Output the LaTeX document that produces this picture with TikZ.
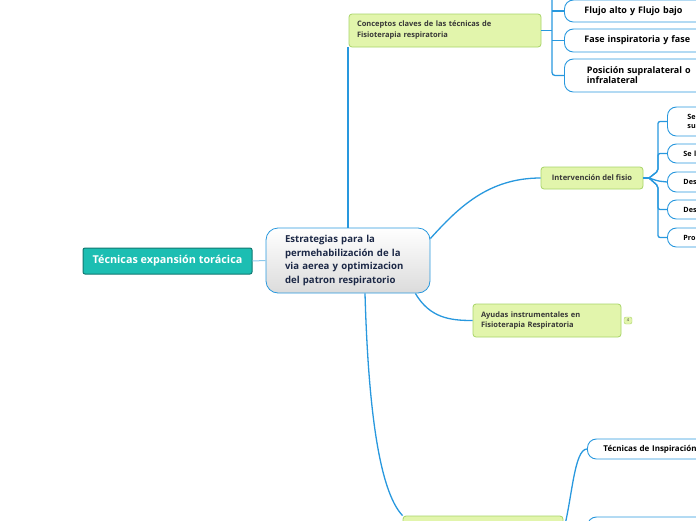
\documentclass[tikz,border=0pt]{standalone}
\usepackage{fontspec}
\setmainfont{Open Sans}
\usepackage{tikz}
\usetikzlibrary{positioning,calc}
\definecolor{linkblue}{RGB}{40,152,222}
\definecolor{paleblue}{RGB}{140,200,235}
\definecolor{tealfill}{RGB}{28,190,178}
\definecolor{tealdraw}{RGB}{16,120,112}
\definecolor{leaffill}{RGB}{226,245,172}
\definecolor{leafdraw}{RGB}{168,212,104}
\definecolor{navytext}{RGB}{28,40,70}
\definecolor{greytext}{RGB}{55,55,55}
\tikzset{
  rootbox/.style={rectangle, draw=tealdraw, fill=tealfill, rounded corners=2pt, line width=1pt, text=white, font=\fontsize{10.8}{12}\selectfont\bfseries},
  mainbox/.style={rectangle, draw=linkblue, top color=white, bottom color=gray!28, rounded corners=12pt, line width=0.8pt, text=navytext, align=left, font=\fontsize{9.6}{14}\selectfont\bfseries},
  leafbox/.style={rectangle, draw=leafdraw, fill=leaffill, rounded corners=3pt, line width=0.8pt, text=greytext, align=left},
  subbox/.style={rectangle, draw=linkblue, fill=white, rounded corners=9pt, line width=0.9pt, anchor=west, align=left, text=black},
  badge/.style={rectangle, draw=leafdraw, fill=leaffill, rounded corners=2pt, inner sep=0pt, minimum width=8pt, minimum height=7pt, font=\fontsize{4}{4}\selectfont, text=greytext},
  link/.style={draw=linkblue, line width=1.3pt},
  thinlink/.style={draw=paleblue, line width=1pt},
}

\begin{document}
\begin{tikzpicture}[x=1pt, y=-1pt]
  \useasboundingbox (0,0) rectangle (696,520);

  % Root and central topic
  \node[rootbox, minimum width=169pt, minimum height=26pt] (tecnicas) at (167.5,261) {Técnicas expansión torácica};
  \node[mainbox, minimum width=164pt, minimum height=65pt, text width=126pt] (central) at (348,260.5)
    {Estrategias para la\\permehabilización de la\\via aerea y optimizacion\\del patron respiratorio};
  \draw[thinlink] (tecnicas.east) -- (central.west);

  % Conceptos claves
  \node[leafbox, minimum width=192pt, minimum height=33pt, text width=176pt, font=\fontsize{7.5}{11}\selectfont\bfseries] (conceptos) at (445,30.5)
    {Conceptos claves de las técnicas de\\Fisioterapia respiratoria};
  \draw[link] (central.north) -- (central.north |- conceptos.south);

  \node[subbox, minimum width=200pt, minimum height=22pt, text width=160pt, inner xsep=17pt, font=\fontsize{9}{10}\selectfont\bfseries] (flujo) at (564,11) {Flujo alto y Flujo bajo};
  \node[subbox, minimum width=200pt, minimum height=23pt, text width=160pt, inner xsep=17pt, font=\fontsize{9}{10}\selectfont\bfseries] (fase) at (564,40.5) {Fase inspiratoria y fase};
  \node[subbox, minimum width=200pt, minimum height=33pt, text width=155pt, inner xsep=22pt, font=\fontsize{9}{10}\selectfont\bfseries] (posicion) at (564,75.5) {Posición supralateral o\\infralateral};

  \coordinate (ctop) at (552,0);
  \draw[link] (conceptos.east) -- (ctop |- conceptos.east);
  \draw[link, rounded corners=3pt] (ctop) |- (posicion.west);
  \draw[link] (ctop |- flujo.west) -- (flujo.west);
  \draw[link] (ctop |- fase.west) -- (fase.west);

  % Intervencion del fisio
  \node[leafbox, minimum width=102pt, minimum height=22pt, font=\fontsize{7.6}{9}\selectfont\bfseries] (fisio) at (592,178) {Intervención del fisio};
  \draw[link] ([yshift=22pt]central.east) .. controls (458,208) and (488,178) .. (fisio.west);

  \node[subbox, minimum width=60pt, minimum height=29pt, text width=30pt, inner xsep=20pt, font=\fontsize{7.2}{8.5}\selectfont\bfseries] (fisioa) at (667,121.5) {Se\\su};
  \node[subbox, minimum width=60pt, minimum height=19pt, text width=30pt, inner xsep=16pt, font=\fontsize{7.2}{8.5}\selectfont\bfseries] (fisiob) at (667,153.5) {Se l};
  \node[subbox, minimum width=60pt, minimum height=20pt, text width=30pt, inner xsep=16pt, font=\fontsize{7.2}{8.5}\selectfont\bfseries] (fisioc) at (667,182) {Des};
  \node[subbox, minimum width=60pt, minimum height=19pt, text width=30pt, inner xsep=16pt, font=\fontsize{7.2}{8.5}\selectfont\bfseries] (fisiod) at (667,209.5) {Des};
  \node[subbox, minimum width=60pt, minimum height=19pt, text width=30pt, inner xsep=16pt, font=\fontsize{7.2}{8.5}\selectfont\bfseries] (fisioe) at (667,237.5) {Pro};

  \coordinate (fork) at (649,178);
  \draw[link] (fisio.east) -- (fork);
  \draw[link, rounded corners=2pt] (fork) -- (658,171) |- (fisioa.west);
  \draw[link, rounded corners=2pt] (fork) -- (658,171) |- (fisiob.west);
  \draw[link, rounded corners=2pt] (fork) -- (658,181) -- (fisioc.west);
  \draw[link, rounded corners=2pt] (fork) -- (658,186) |- (fisiod.west);
  \draw[link, rounded corners=2pt] (fork) -- (658,186) |- (fisioe.west);

  % Ayudas instrumentales
  \node[leafbox, minimum width=148pt, minimum height=33pt, text width=132pt, font=\fontsize{7.5}{10.5}\selectfont\bfseries] (ayudas) at (547,320.5)
    {Ayudas instrumentales en\\Fisioterapia Respiratoria};
  \node[badge] (ayudasnum) at (628,320.5) {4};
  \draw[link] ([yshift=-33pt,xshift=-15pt]central.east) .. controls (430,318) and (450,320.5) .. (ayudas.west);

  % Rama inferior
  \node[leafbox, minimum width=160pt, minimum height=30pt] (inferior) at (483,531) {};
  \draw[link] ([xshift=17pt]central.south) .. controls (368,400) and (378,490) .. (inferior.north west);

  \node[subbox, minimum width=140pt, minimum height=20pt, text width=110pt, inner xsep=16pt, font=\fontsize{8}{9}\selectfont\bfseries] (inspiracion) at (587,449) {Técnicas de Inspiración};
  \node[subbox, minimum width=140pt, minimum height=20pt] (inferiorb) at (587,527) {};
  \draw[link] (inferior.east) .. controls (572,500) and (574,449) .. (inspiracion.west);
  \draw[link] (inferior.east) .. controls (575,527) .. (inferiorb.west);
\end{tikzpicture}
\end{document}
